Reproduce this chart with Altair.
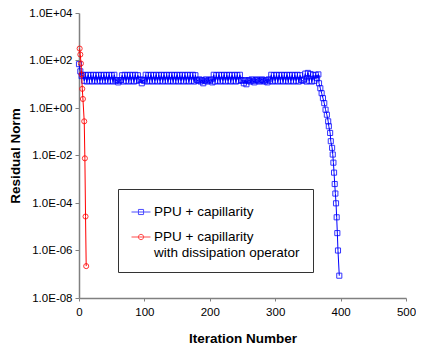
import altair as alt
import pandas as pd

S1 = "PPU + capillarity"
S2 = "PPU + capillarity with dissipation operator"

# Blue series: plateau sampled every 2 iterations (0..366), then the final descent
blue_plateau = [
    70, 35, 22, 25, 14, 24, 13, 25, 14, 24,
    13, 25, 14, 24, 13, 25, 14, 24, 13, 25,
    14, 24, 13, 25, 14, 24, 13, 25, 14, 15,
    12, 14, 15, 24, 13, 25, 14, 24, 13, 25,
    14, 24, 13, 25, 14, 24, 15, 16, 11, 15,
    14, 25, 13, 24, 14, 25, 13, 24, 14, 25,
    13, 24, 14, 25, 13, 24, 14, 25, 13, 24,
    14, 25, 13, 24, 14, 25, 13, 24, 14, 25,
    13, 24, 14, 25, 13, 24, 14, 25, 13, 24,
    15, 14, 16, 13, 15, 11, 14, 16, 13, 15,
    14, 16, 12, 25, 13, 24, 14, 25, 13, 24,
    14, 25, 13, 24, 14, 25, 13, 24, 14, 25,
    13, 24, 14, 25, 15, 14, 11, 15, 10, 14,
    15, 13, 16, 14, 12, 15, 16, 14, 13, 15,
    16, 14, 13, 15, 12, 16, 14, 25, 13, 24,
    14, 25, 13, 24, 14, 25, 13, 24, 14, 25,
    13, 24, 14, 25, 13, 24, 14, 25, 13, 24,
    15, 14, 16, 28, 13, 30, 14, 27, 13, 24,
    14, 25, 18, 26,
]
blue_plateau_iter = list(range(0, 367, 2))
blue_desc_iter = [367, 369, 371, 373, 375, 377, 379, 381, 382, 384, 385,
                  387, 388, 389, 390, 391, 392, 393, 394, 395, 396, 398]
blue_desc = [11, 6.8, 4.2, 2.6, 1.6, 0.85, 0.52, 0.275, 0.17, 0.089, 0.04,
             0.021, 0.011, 5.0e-3, 1.9e-3, 6.3e-4, 2.5e-4, 9.7e-5, 2.5e-5,
             5.4e-6, 1.0e-6, 8.7e-8]

red_iter = [1, 2, 3, 4, 5, 6, 8, 9, 10, 11]
red_res = [318, 178, 75, 26, 6.4, 2.4, 0.275, 7.6e-3, 2.7e-5, 2.2e-7]

y_ticks = [1e-8, 1e-6, 1e-4, 1e-2, 1e0, 1e2, 1e4]
x_ticks = [0, 100, 200, 300, 400, 500]

df_b = pd.DataFrame({"iter": blue_plateau_iter + blue_desc_iter,
                     "res": blue_plateau + blue_desc, "series": S1})
df_r = pd.DataFrame({"iter": red_iter, "res": red_res, "series": S2})
df_all = pd.concat([df_b, df_r])

FONT = "Liberation Sans"

x = alt.X("iter:Q", scale=alt.Scale(domain=[0, 500]),
          axis=alt.Axis(values=x_ticks, title="Iteration Number", grid=False,
                        labelFontSize=11.5, titleFontSize=13.5, titleFontWeight="bold",
                        tickSize=3, labelPadding=5, titlePadding=14, format="d",
                        labelFlush=False))
y = alt.Y("res:Q", scale=alt.Scale(type="log", domain=[1e-8, 1e4]),
          axis=alt.Axis(values=y_ticks, title="Residual Norm", grid=False,
                        labelFontSize=11.5, titleFontSize=13.5, titleFontWeight="bold",
                        tickSize=4, labelPadding=3, titlePadding=6, labelFlush=False,
                        labelExpr="replace(replace(format(datum.value, '.1e'), 'e+', 'E+0'), 'e-', 'E-0')"))

col_scale = alt.Scale(domain=[S1, S2], range=["#0000ff", "#ff0000"])

sq = "M-1,0L1,0M-0.27,-0.27L0.27,-0.27L0.27,0.27L-0.27,0.27Z"
ci = "M-1,0L1,0M-0.28,0A0.28,0.28,0,1,1,0.28,0A0.28,0.28,0,1,1,-0.28,0"
shape_scale = alt.Scale(domain=[S1, S2], range=[sq, ci])

def line_layer(df, color):
    return alt.Chart(df).mark_line(strokeWidth=1, color=color).encode(x=x, y=y, order="iter:Q")

def pt_layer(df, color, shape):
    return alt.Chart(df).mark_point(filled=False, strokeWidth=1, size=26, shape=shape,
                                    color=color, opacity=0.8).encode(x=x, y=y)

leg = dict(
    title=None, orient="none", legendX=39, legendY=176,
    padding=13, strokeColor="#333333", fillColor="white",
    labelFont=FONT, labelFontSize=13.5, labelColor="black",
    symbolSize=360, symbolStrokeWidth=1, rowPadding=8, labelOffset=3,
    labelExpr="datum.label == '" + S1 + "' ? datum.label : ['PPU + capillarity', 'with dissipation operator']",
    labelLimit=300,
)

legend_layer = alt.Chart(df_all).transform_filter("datum.iter < -1").mark_point(
    filled=False, strokeWidth=1).encode(
    x=x, y=y,
    color=alt.Color("series:N", scale=col_scale, legend=alt.Legend(**leg)),
    shape=alt.Shape("series:N", scale=shape_scale, legend=alt.Legend(**leg)),
)

chart = alt.layer(
    line_layer(df_b, "#0000ff"),
    pt_layer(df_b, "#0000ff", "square"),
    line_layer(df_r, "#ff0000"),
    pt_layer(df_r, "#ff0000", "circle"),
    legend_layer,
).properties(
    width=327, height=285,
    autosize=alt.AutoSizeParams(type="none"),
    padding={"left": 71, "top": 5, "right": 10, "bottom": 48},
).configure_view(stroke=None).configure_axis(
    domainColor="#808080", domainWidth=1.5, tickColor="#808080", tickWidth=1,
    labelFont=FONT, titleFont=FONT, labelColor="black", titleColor="black",
)

chart.save("out.html", embed_options={"renderer": "svg", "actions": False})
